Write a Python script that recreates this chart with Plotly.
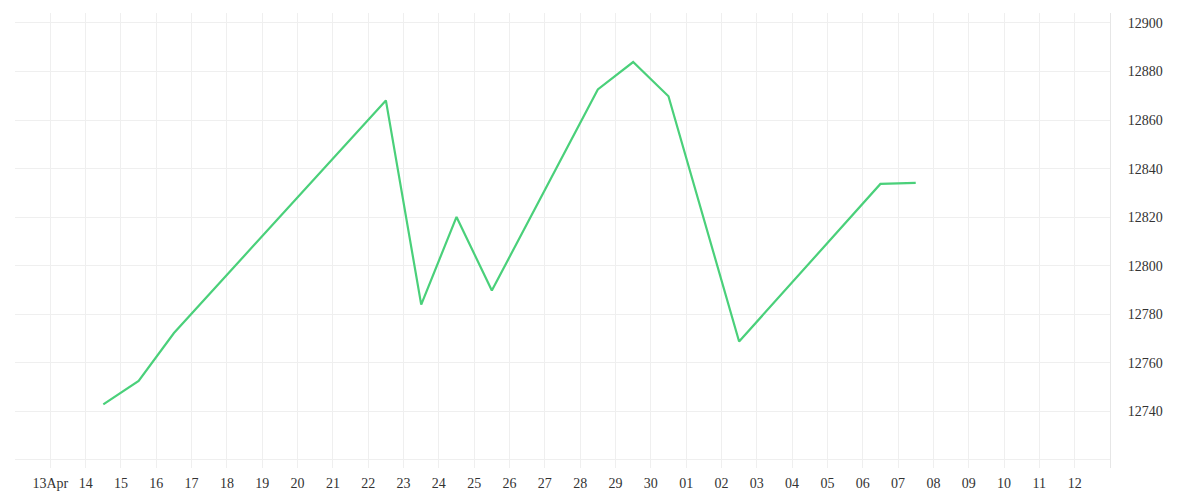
import plotly.graph_objects as go
import pandas as pd

dates = ["2024-04-14 12:00", "2024-04-15 12:00", "2024-04-16 12:00", "2024-04-22 12:00",
         "2024-04-23 12:00", "2024-04-24 12:00", "2024-04-25 12:00", "2024-04-28 12:00",
         "2024-04-29 12:00", "2024-04-30 12:00", "2024-05-02 12:00", "2024-05-06 12:00",
         "2024-05-07 12:00"]
values = [12742.9, 12752.6, 12772.3, 12868.1, 12784.0, 12820.1, 12789.8, 12872.6,
          12883.9, 12869.8, 12768.8, 12833.7, 12834.1]

tick_dates = pd.date_range("2024-04-12", "2024-05-13", freq="D")
tick_labels = [""] + ["13Apr"] + [d.strftime("%d") for d in tick_dates[2:-1]] + [""]

y_ticks = [12720, 12740, 12760, 12780, 12800, 12820, 12840, 12860, 12880, 12900]
y_labels = [""] + [str(v) for v in y_ticks[1:]]

font_family = "Liberation Serif"

fig = go.Figure()
fig.add_trace(go.Scatter(
    x=pd.to_datetime(dates), y=values, mode="lines",
    line=dict(color="#4ad07a", width=2.2),
    hoverinfo="x+y", showlegend=False,
))

fig.update_layout(
    width=1200, height=500,
    margin=dict(l=7, r=98, t=5, b=40),
    paper_bgcolor="white", plot_bgcolor="white",
    font=dict(family=font_family, size=14, color="#333333"),
    xaxis=dict(
        type="date",
        range=[tick_dates[0], tick_dates[-1]],
        tickvals=list(tick_dates), ticktext=tick_labels,
        showgrid=True, gridcolor="#efefef", gridwidth=1,
        zeroline=False, showline=False, ticks="",
        ticklabelstandoff=5,
    ),
    yaxis=dict(
        side="right",
        range=[12716.7, 12904.1],
        tickvals=y_ticks, ticktext=y_labels,
        showgrid=True, gridcolor="#efefef", gridwidth=1,
        zeroline=False, showline=True, linecolor="#e6e6e6", linewidth=1,
        ticks="", ticklabelstandoff=14,
    ),
)

fig.write_html("out.html")
